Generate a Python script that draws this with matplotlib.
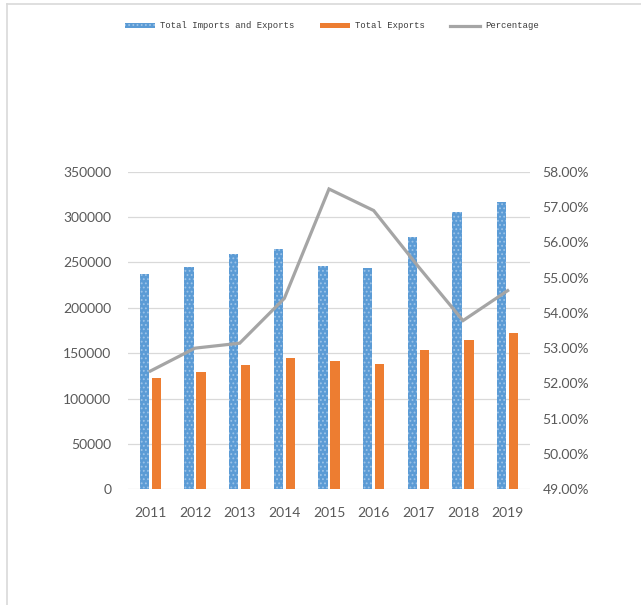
import numpy as np
import matplotlib
matplotlib.use("Agg")
import matplotlib.pyplot as plt
from matplotlib.lines import Line2D
from matplotlib.ticker import FuncFormatter

# ---------------- data ----------------
years = ["2011", "2012", "2013", "2014", "2015", "2016", "2017", "2018", "2019"]
total_trade = [236800, 244800, 258800, 264600, 245600, 243400, 277900, 305100, 316100]
total_exports = [122900, 129200, 136900, 144300, 141300, 138300, 153100, 164400, 172100]
percentage = [52.35, 53.00, 53.14, 54.41, 57.51, 56.90, 55.31, 53.78, 54.63]

blue = "#5B9BD5"
orange = "#ED7D31"
gray = "#A5A5A5"
txt = "#595959"

plt.rcParams["hatch.linewidth"] = 0.8

fig = plt.figure(figsize=(6.41, 6.05), dpi=100)
ax = fig.add_axes([128/641, 1-489.3/605, (530-128)/641, (489.3-171.7)/605])
ax2 = ax.twinx()

x = np.arange(len(years))
w = 0.21
ax.bar(x - 0.135, total_trade, w, color=blue, edgecolor="#9CC3E8", hatch="....", linewidth=0, zorder=3)
ax.bar(x + 0.135, total_exports, w, color=orange, linewidth=0, zorder=3)
ax2.plot(x, percentage, color=gray, lw=2.3, solid_joinstyle="miter", zorder=4)

ax.set_xlim(-0.5, len(years) - 0.5)
ax.set_ylim(0, 350000)
ax.set_yticks(np.arange(0, 350001, 50000))
ax2.set_ylim(49, 58)
ax2.set_yticks(np.arange(49, 58.1, 1))
ax2.yaxis.set_major_formatter(FuncFormatter(lambda v, p: "%.2f%%" % v))

ax.set_xticks(x)
ax.set_xticklabels(years)
ax.grid(axis="y", color="#D9D9D9", lw=0.9, zorder=0)
ax.set_axisbelow(True)
for a in (ax, ax2):
    for s in a.spines.values():
        s.set_visible(False)
    a.tick_params(length=0, labelsize=10, labelcolor=txt)
    for lab in a.get_xticklabels() + a.get_yticklabels():
        lab.set_fontfamily("Lato")
ax.tick_params(axis="x", pad=13)
ax.tick_params(axis="y", pad=12)
ax2.tick_params(axis="y", pad=9)

# legend
handles = [
    plt.Rectangle((0, 0), 1, 1, facecolor=blue, edgecolor="#9CC3E8", hatch="....", linewidth=0),
    plt.Rectangle((0, 0), 1, 1, facecolor=orange, linewidth=0),
    Line2D([0], [0], color=gray, lw=2.3),
]
labels = ["Total Imports and Exports", "Total Exports", "Percentage"]
fig.legend(handles, labels, loc="center", bbox_to_anchor=(332/641, 1-26/605), ncol=3,
           frameon=False, prop={"family": "Liberation Mono", "size": 6.4},
           handlelength=3.4, handleheight=0.5, handletextpad=0.6, columnspacing=2.8,
           labelcolor="#3A3A3A")

# light frame lines of the original screenshot
fig.add_artist(Line2D([7/641, 7/641], [0, 1-4/605], color="#D9D9D9", lw=1.2, transform=fig.transFigure))
fig.add_artist(Line2D([7/641, 1], [1-4/605, 1-4/605], color="#D9D9D9", lw=1.2, transform=fig.transFigure))

fig.savefig("out.png", dpi=100)
